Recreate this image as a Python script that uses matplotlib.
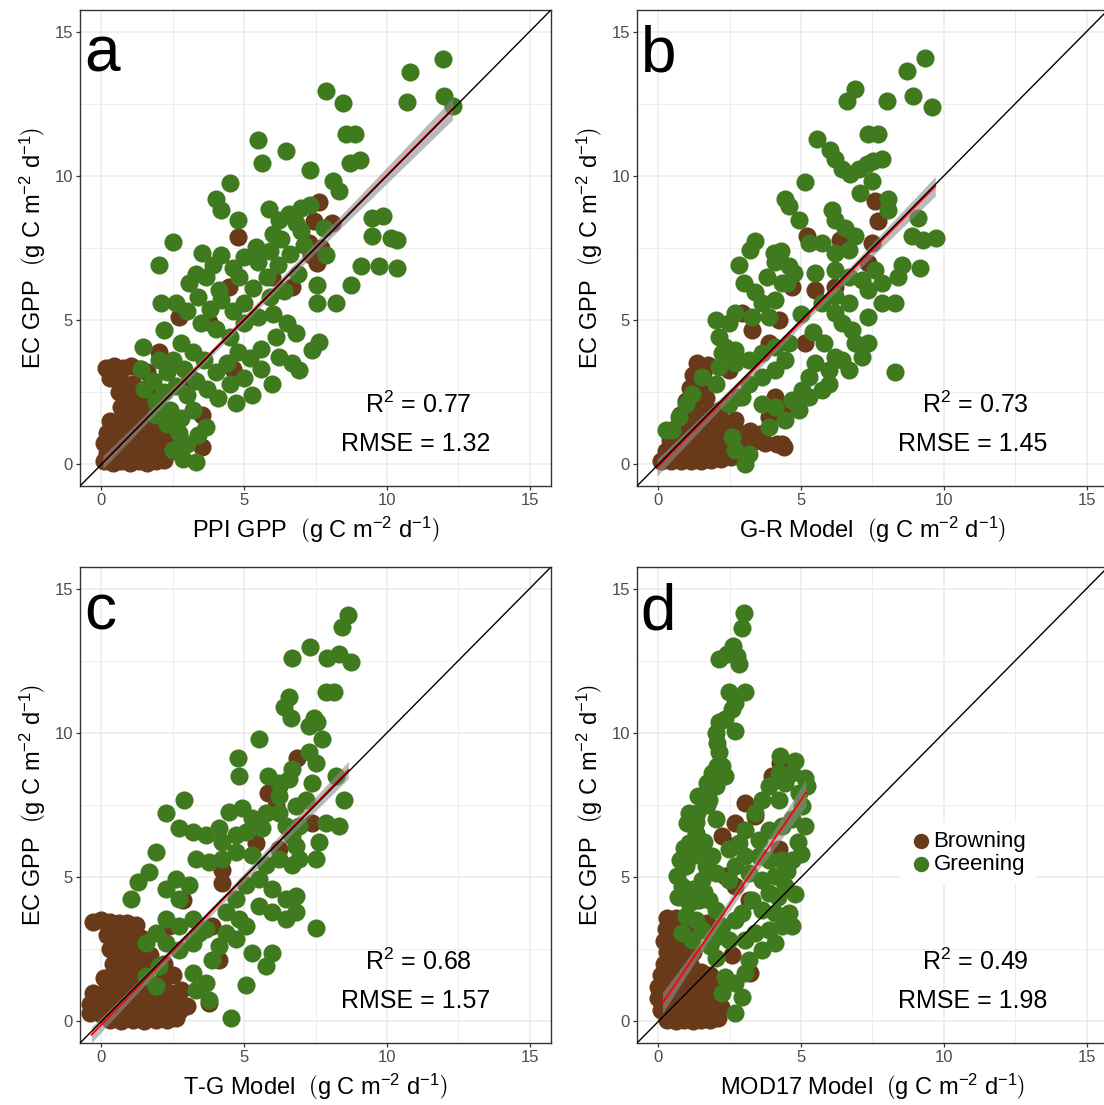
import numpy as np
import matplotlib
matplotlib.use('Agg')
import matplotlib.pyplot as plt

plt.rcParams['font.family'] = 'Liberation Sans'
plt.rcParams['mathtext.fontset'] = 'custom'
plt.rcParams['mathtext.rm'] = 'Liberation Sans'
plt.rcParams['mathtext.it'] = 'Liberation Sans:italic'

# ---- data (x = model GPP, y = EC GPP) ----
a_green = [(11.96,14.06),(10.80,13.60),(10.71,12.57),(11.99,12.75),(12.30,12.42),
    (7.88,12.94),(8.47,12.54),(8.56,11.44),(8.88,11.44),(8.72,10.43),(9.06,10.54),
    (5.48,11.24),(6.48,10.86),(5.64,10.45),(7.31,10.20),(8.11,9.81),(8.32,9.47),
    (4.50,9.76),(4.00,9.18),(4.18,8.83),(5.87,8.85),(4.77,8.46),
    (6.57,8.69),(6.81,8.37),(6.22,8.46),(6.98,8.08),(7.86,7.27),
    (9.49,8.54),(9.86,8.60),(9.49,7.90),(10.13,7.84),(10.36,7.79),
    (9.08,6.86),(9.72,6.86),(10.36,6.80),(8.73,6.22),(7.56,6.22),(7.56,5.59),(8.20,5.59),
    (2.49,7.71),(2.03,6.92),(3.54,7.32),(4.18,7.27),(5.41,7.55),
    (6.81,4.54),(7.62,4.25),(7.39,3.96),(6.22,3.73),(6.69,3.50),(6.92,3.27),(5.99,2.80),
    (5.29,2.40),(4.71,2.11),(3.66,1.30),(2.84,0.20),(3.31,0.08),
    (1.45,4.08),(2.09,5.59),(2.61,5.59),(2.20,4.66),
    (3.08,6.28),(3.66,6.51),(4.13,6.05),(4.83,6.51),
    (5.5,7.0),(5.8,6.5),(6.2,6.9),(6.6,7.3),(6.9,6.6),(7.1,7.6),(6.4,6.0),(5.9,5.8),
    (5.3,6.1),(5.0,5.6),(4.6,5.3),(4.2,5.7),(3.8,5.4),(3.4,5.8),(3.0,5.3),(3.5,4.9),
    (4.0,4.7),(4.5,4.4),(5.0,4.9),(5.5,5.1),(6.0,5.2),(6.5,4.9),(6.1,4.4),(5.6,4.0),
    (5.2,3.7),(4.8,3.9),(4.4,3.5),(4.0,3.2),(3.6,3.6),(3.2,3.9),(2.8,4.2),(2.5,3.6),
    (2.3,3.2),(2.9,3.3),(3.3,2.9),(3.7,2.6),(4.1,2.3),(4.5,2.8),(5.0,3.0),(5.6,3.3),
    (3.0,2.4),(2.6,2.7),(2.2,2.5),(1.8,2.9),(1.5,2.6),(1.9,2.2),(2.4,1.9),(2.8,1.6),
    (3.2,1.9),(3.4,1.0),(3.0,0.7),(2.7,1.1),(2.3,1.4),(1.9,1.7),(2.5,0.5),(1.4,3.3),
    (2.0,3.6),(3.3,6.6),(3.9,6.9),(4.6,6.8),(5.0,7.2),(5.9,7.4),(6.3,7.8),(6.0,8.0),
    (7.0,8.9),(7.3,9.0),(7.8,8.2)]
a_brown = [(7.45,8.42),(8.09,8.37),(7.27,7.67),(7.56,6.98),(7.35,7.25),(7.70,7.50),(7.62,9.10),
    (4.77,7.88),(4.48,6.16),(5.99,6.51),(6.69,6.16),(2.73,5.12),(3.78,4.95),(3.54,1.70),
    (3.54,0.60),(2.20,1.90),(3.10,3.00),(4.60,3.30),(2.00,3.90),(1.70,2.60),
    (0.15,3.35),(0.45,3.40),(0.75,3.35),(1.05,3.40),(1.35,3.30),(1.60,3.20),(0.30,3.00),
    (0.70,2.90),(1.10,2.80),(0.60,2.50),(0.90,2.30),(1.30,2.40),(0.70,2.00),(1.10,1.90),
    (1.50,2.00),(0.10,0.10),(0.40,0.05),(0.70,0.10),(1.00,0.05),(1.30,0.10),(1.60,0.05),
    (1.90,0.10),(2.20,0.15),(0.20,0.40),(0.50,0.45),(0.80,0.40),(1.10,0.45),(1.40,0.40),
    (1.70,0.45),(2.00,0.40),(2.30,0.50),(2.60,0.45),(0.10,0.75),(0.40,0.80),(0.70,0.75),
    (1.00,0.80),(1.30,0.75),(1.60,0.80),(1.90,0.75),(2.20,0.85),(2.50,0.80),(0.20,1.10),
    (0.50,1.15),(0.80,1.10),(1.10,1.15),(1.40,1.10),(1.70,1.15),(2.00,1.20),(0.30,1.50),
    (0.60,1.50),(0.90,1.45),(1.20,1.55),(1.50,1.50)]

b_green = [(9.34,14.07),(8.70,13.64),(6.89,13.00),(6.60,12.60),(8.02,12.60),(8.93,12.75),
    (9.57,12.40),(7.36,11.44),(7.71,11.44),(5.55,11.26),
    (6.00,10.90),(6.19,10.57),(6.43,10.22),(6.72,10.05),(7.01,10.22),(7.30,10.40),
    (7.53,10.51),(7.82,10.57),(5.15,9.79),(7.47,9.81),(7.07,9.41),(4.45,9.18),(4.56,8.95),
    (4.91,8.48),(6.08,8.83),(6.19,8.48),(6.54,8.19),(6.89,7.90),
    (8.06,9.18),(8.06,8.83),(9.10,8.54),(8.87,7.90),(9.28,7.79),(9.74,7.84),(9.16,6.80),
    (8.52,6.92),(8.40,6.51),(8.29,3.21),
    (3.40,7.73),(3.22,7.44),(4.04,7.32),(4.10,7.03),(2.82,6.92),
    (4.56,6.86),(4.74,6.63),(4.51,6.28),(5.26,7.67),(5.73,7.67),(6.19,7.32),(6.66,7.44),
    (5.49,6.63),(6.19,6.74),(6.66,6.51),(7.12,6.40),(7.36,6.05),(7.59,6.74),(7.82,6.28),
    (5.73,5.59),(6.19,5.82),(6.66,5.59),(6.19,5.24),(6.43,4.89),(6.77,4.66),(7.36,5.12),
    (7.82,5.59),(8.29,5.59),(6.89,4.20),(7.12,3.73),(7.36,4.20),(6.66,3.27),(6.43,3.62),
    (6.19,3.73),(5.96,3.27),(5.49,3.50),(5.26,3.03),(5.03,2.57),(4.68,2.22),(4.91,1.87),
    (5.26,2.34),(5.73,2.57),(5.96,2.80),
    (3.40,5.96),(3.63,5.59),(3.87,5.12),(4.10,5.70),(4.33,6.28),(3.28,5.12),(2.70,5.24),
    (2.47,4.89),(2.12,4.43),(2.35,4.08),(2.70,3.96),(2.24,3.85),(2.12,3.38),(2.70,3.50),
    (3.17,3.62),(3.63,3.85),(4.10,4.08),(4.56,4.20),(4.45,3.62),(4.10,3.27),(3.63,3.03),
    (3.17,2.80),(2.93,2.34),(2.47,2.10),(2.00,2.80),(1.54,3.03),(1.19,2.45),(0.95,2.10),
    (0.72,1.64),(0.49,1.18),(3.63,2.10),(4.10,1.98),(4.45,1.52),(3.87,1.30),(3.17,0.37),
    (2.70,0.49),(2.59,0.95),(3.05,0.02),(0.26,1.18),
    (3.00,6.30),(3.80,6.50),(4.30,7.40),(2.00,5.00),(5.00,5.20),(5.40,4.60),(5.80,4.20)]
b_brown = [(7.59,9.12),(7.71,8.42),(5.20,7.90),(7.36,6.98),(7.47,7.67),(6.37,7.79),(5.49,6.05),
    (4.68,6.16),(6.19,6.16),(2.93,5.24),(3.28,4.66),(4.21,5.00),(5.15,4.20),(3.87,4.20),
    (2.47,3.27),(4.10,2.34),(3.87,1.65),(4.56,1.99),(4.33,0.72),(2.82,2.34),
    (0.10,0.10),(0.45,0.10),(0.80,0.10),(1.15,0.10),(1.50,0.12),(1.85,0.15),(2.20,0.20),
    (2.55,0.25),(0.25,0.45),(0.60,0.45),(0.95,0.45),(1.30,0.45),(1.65,0.50),(2.00,0.50),
    (2.35,0.55),(2.70,0.60),(3.05,0.70),(3.40,0.80),(3.75,0.75),(4.15,0.70),(4.40,0.60),
    (0.40,0.85),(0.75,0.85),(1.10,0.80),(1.45,0.85),(1.80,0.90),(2.15,0.95),(2.50,1.00),
    (2.85,1.10),(3.20,1.15),(3.55,1.05),(0.60,1.25),(0.95,1.30),(1.30,1.25),(1.65,1.30),
    (2.00,1.40),(2.35,1.45),(2.70,1.55),(0.75,1.70),(1.10,1.75),(1.45,1.70),(1.80,1.80),
    (2.15,1.90),(0.95,2.20),(1.30,2.25),(1.65,2.30),(1.10,2.65),(1.45,2.70),(1.20,3.10),
    (1.55,3.15),(1.35,3.50),(1.75,3.45)]

c_green = [(8.65,14.09),(8.44,13.66),(7.30,12.96),(6.67,12.59),(7.91,12.59),(8.32,12.74),
    (8.73,12.45),(7.86,11.42),(8.15,11.42),(6.57,11.23),(6.40,10.88),(6.63,10.53),
    (7.45,10.53),(7.27,10.24),(7.56,10.36),(7.74,9.78),(5.52,9.78),(4.77,9.14),(4.83,8.50),
    (5.82,8.50),(7.27,9.32),(7.51,8.97),(6.69,8.74),(8.21,8.50),(8.50,7.69),(8.32,6.76),
    (7.86,6.88),(7.62,6.22),(7.51,5.64),(7.51,3.25),
    (2.90,7.69),(2.26,7.23),(2.73,6.71),(3.19,6.57),(3.66,6.46),(4.13,6.69),(4.48,7.27),
    (4.94,7.39),(5.29,7.04),(5.64,6.69),(5.06,6.57),(1.91,5.87),(1.68,5.17),(1.27,4.82),
    (1.04,4.24),(2.61,4.94),(2.26,4.59),(2.73,4.24),(3.08,4.71),(3.31,5.64),(3.78,5.52),
    (4.24,5.64),(4.71,5.87),(4.24,6.22),(4.71,6.46),(5.29,5.76),(5.76,5.41),(6.22,5.64),
    (6.69,5.41),(6.92,5.64),(5.52,4.94),(5.99,4.59),(6.46,4.24),(6.81,4.36),(6.81,3.78),
    (6.46,3.54),(5.99,3.78),(5.52,4.01),(5.06,4.71),(4.71,4.24),(4.36,3.78),(4.83,3.54),
    (5.06,3.31),(4.71,2.84),(4.36,3.08),(5.29,2.38),(5.76,1.91),(5.99,2.38),(5.06,1.27),
    (4.53,0.10),(3.66,1.33),(3.78,0.75),(3.89,2.14),(4.13,2.61),(3.66,3.19),
    (3.19,3.54),(2.73,3.31),(2.26,3.54),(1.91,3.08),(1.56,2.73),(2.26,2.73),(2.73,2.49),
    (3.19,2.73),(3.43,3.08),(2.03,1.91),(1.56,1.56),(1.91,1.21),(3.19,1.67),(3.31,1.09),
    (6.22,8.27),(6.57,8.39),(6.22,7.81),(6.81,7.46),(7.16,7.69),(7.39,8.27),
    (5.76,7.23),(6.22,7.23),(6.46,6.76),(6.69,6.42),(6.81,6.07),(6.92,6.76)]
c_brown = [(5.82,7.93),(6.22,8.16),(6.11,7.46),(6.86,9.14),(7.39,6.88),(5.41,6.19),(6.22,5.96),
    (4.24,5.26),(4.24,4.80),(2.84,4.22),(2.38,3.29),(3.89,3.29),(4.13,2.13),(3.78,0.63),
    (1.70,2.30),(2.20,2.00),
    (-0.30,3.45),(0.00,3.50),(0.30,3.45),(0.60,3.40),(0.90,3.40),(1.20,3.35),
    (0.20,3.00),(0.50,3.05),(0.80,2.95),(1.10,3.00),(1.40,2.90),
    (0.30,2.50),(0.60,2.55),(0.90,2.45),(1.20,2.50),(1.50,2.40),
    (0.40,2.00),(0.70,2.00),(1.00,1.95),(1.30,2.05),(1.60,2.10),
    (0.10,1.50),(0.50,1.50),(0.80,1.55),(1.10,1.45),(1.40,1.50),(2.20,1.50),(2.50,1.60),
    (-0.30,1.00),(0.00,0.95),(0.40,1.00),(0.80,1.05),(1.20,1.00),(1.60,1.00),(2.00,1.05),
    (2.40,1.00),(2.80,1.10),
    (-0.40,0.60),(0.00,0.60),(0.40,0.55),(0.80,0.60),(1.20,0.55),(1.60,0.60),(2.00,0.60),
    (2.40,0.65),(2.80,0.60),(3.00,0.55),
    (-0.40,0.30),(0.00,0.25),(0.40,0.30),(0.80,0.25),(1.20,0.30),(1.60,0.25),(2.00,0.30),
    (2.40,0.30),(2.70,0.35),
    (0.30,0.05),(0.70,0.00),(1.10,0.05),(1.50,0.00),(1.90,0.05),(2.30,0.05),(2.60,0.10)]

d_green = [(2.99,14.15),(2.93,13.63),(2.61,13.02),(2.41,12.73),(2.12,12.56),(2.76,12.68),
    (2.84,12.39),(2.47,11.43),(3.05,11.43),(2.70,11.05),(2.58,10.82),(2.35,10.47),
    (2.12,10.36),(2.70,10.07),(2.00,10.01),(2.06,9.66),(2.12,9.32),(2.06,8.85),(1.89,8.62),
    (2.24,8.85),(2.35,8.50),(1.71,8.27),(2.00,8.16),(1.77,7.69),
    (1.07,7.23),(1.36,7.23),(1.01,6.88),(1.30,6.54),(1.07,6.19),(1.19,5.72),(0.95,5.38),
    (0.66,5.03),(0.84,4.68),(1.54,5.84),(1.89,5.72),(1.65,5.38),(2.00,5.14),(1.54,4.91),
    (1.42,4.22),(1.07,4.10),(0.95,3.64),(1.30,3.52),(1.54,3.18),(1.19,2.83),(0.84,3.06),
    (1.77,4.22),(2.00,3.87),(0.70,4.30),(1.20,4.60),(0.90,6.00),(1.30,6.90),(1.60,6.20),
    (1.70,7.50),(1.40,7.80),(2.00,7.00),(0.75,5.60),(1.60,4.50),
    (4.27,9.20),(4.80,9.03),(4.68,8.62),(5.15,8.45),(5.21,8.16),(4.21,8.62),(4.45,8.27),
    (3.86,8.16),(3.63,7.69),(3.40,7.23),(4.21,7.69),(4.91,7.93),(5.03,7.46),(5.15,6.77),
    (4.68,7.00),(4.33,6.77),(3.86,6.65),(3.52,6.30),(3.05,6.65),(2.82,6.19),(2.47,5.96),
    (3.05,5.72),(3.52,5.72),(3.86,5.61),(4.33,5.61),(4.68,5.61),(2.70,5.38),(2.47,4.91),
    (3.17,5.14),(3.63,4.91),(4.10,5.03),(4.45,4.68),(3.86,4.45),(3.28,4.22),(2.93,3.75),
    (3.63,3.87),(4.10,3.75),(4.56,3.75),(4.33,3.29),(4.68,3.29),(3.86,3.18),(2.70,3.52),
    (2.24,3.29),(2.00,2.94),(2.47,2.83),(3.05,2.83),(3.40,3.06),(3.63,2.48),(4.10,2.71),
    (3.17,2.13),(3.05,1.67),(2.70,1.32),(2.93,0.86),(2.70,0.28),(2.35,1.55),(2.24,0.97),
    (1.80,2.60),(2.00,2.20),(4.50,5.20),(4.80,4.40),(4.20,4.30),(4.90,6.20),(5.00,5.80)]
d_brown = [(3.98,8.51),(4.27,8.97),(3.05,7.58),(3.40,7.11),(2.70,6.88),(2.24,6.42),(2.58,6.07),
    (4.21,5.96),(2.35,5.03),(2.70,4.68),(3.17,4.22),(1.30,4.22),(1.71,3.41),(2.58,2.31),
    (3.22,1.67),
    (0.30,3.60),(0.60,3.60),(0.90,3.50),(0.25,3.20),(0.55,3.20),(0.85,3.10),(1.10,3.20),
    (0.20,2.80),(0.50,2.80),(0.80,2.75),(1.15,2.70),(0.30,2.40),(0.60,2.40),(0.90,2.30),
    (1.20,2.40),(0.20,2.00),(0.50,2.00),(0.80,1.95),(1.10,2.00),(0.10,1.60),(0.40,1.60),
    (0.70,1.60),(1.00,1.55),(0.00,1.20),(0.30,1.20),(0.60,1.15),(0.90,1.20),(1.20,1.20),
    (1.50,1.30),(1.80,1.20),(2.10,1.30),(0.00,0.80),(0.30,0.80),(0.60,0.75),(0.90,0.80),
    (1.20,0.80),(1.50,0.85),(1.80,0.80),(2.10,0.85),(0.10,0.40),(0.40,0.40),(0.70,0.35),
    (1.00,0.40),(1.30,0.40),(1.60,0.35),(1.90,0.40),(2.20,0.50),(0.30,0.05),(0.60,0.00),
    (0.90,0.05),(1.20,0.00),(1.50,0.05),(1.80,0.05),(2.10,0.10),(1.50,1.70),(1.80,1.60)]

panels = ['a', 'b', 'c', 'd']
x_titles = ['PPI GPP', 'G-R Model', 'T-G Model', 'MOD17 Model']
greens = [a_green, b_green, c_green, d_green]
browns = [a_brown, b_brown, c_brown, d_brown]
# fitted line (slope, intercept, x start, x end)
fits = [(1.00, 0.02, 0.05, 12.30), (1.00, -0.06, -0.05, 9.70),
        (1.02, -0.11, -0.35, 8.65), (1.45, 0.43, 0.14, 5.17)]
r2 = ['0.77', '0.73', '0.68', '0.49']
rmse = ['1.32', '1.45', '1.57', '1.98']
n_obs = 1000   # rough size of the full dataset behind the plotted points

green_col = '#3f7a1e'
brown_col = '#683a1a'
units = r'$\left(\mathrm{g\ C\ m^{-2}\ d^{-1}}\right)$'

fig = plt.figure(figsize=(11.04, 11.05), dpi=100)
boxes = [[0.0725, 0.5602, 0.4266, 0.4308], [0.5770, 0.5602, 0.4266, 0.4308],
         [0.0725, 0.0561, 0.4266, 0.4308], [0.5770, 0.0561, 0.4266, 0.4308]]

for i in range(4):
    ax = fig.add_axes(boxes[i])
    lo, hi = -0.75, 15.75
    ax.set_xlim(lo, hi)
    ax.set_ylim(lo, hi)
    ax.set_xticks([0, 5, 10, 15])
    ax.set_yticks([0, 5, 10, 15])
    ax.set_xticks([2.5, 7.5, 12.5], minor=True)
    ax.set_yticks([2.5, 7.5, 12.5], minor=True)
    ax.grid(which='major', color='#ebebeb', lw=1.1)
    ax.grid(which='minor', color='#ebebeb', lw=0.6)
    ax.set_axisbelow(True)
    for sp in ax.spines.values():
        sp.set_color('#333333')
        sp.set_linewidth(1.0)
    ax.tick_params(which='major', direction='out', length=3, width=0.9, color='#333333',
                   labelcolor='#4d4d4d', labelsize=12, pad=2)
    ax.tick_params(which='minor', length=0)

    gb = np.array(browns[i])
    gg = np.array(greens[i])
    hb = ax.scatter(gb[:, 0], gb[:, 1], s=170, color=brown_col, lw=0, zorder=2, label='Browning')
    hg = ax.scatter(gg[:, 0], gg[:, 1], s=170, color=green_col, lw=0, zorder=2, label='Greening')

    # regression line with 95% confidence band
    slope, icpt, x0, x1 = fits[i]
    allp = np.vstack([gb, gg])
    res = allp[:, 1] - (icpt + slope * allp[:, 0])
    s = np.sqrt(np.mean(res ** 2))
    xbar = allp[:, 0].mean()
    varx = allp[:, 0].var()
    xs = np.linspace(x0, x1, 100)
    ys = icpt + slope * xs
    hw = 1.96 * s * np.sqrt(1.0 / n_obs + (xs - xbar) ** 2 / (n_obs * varx))
    ax.fill_between(xs, ys - hw, ys + hw, color='#8c8c8c', alpha=0.6, lw=0, zorder=3)
    ax.plot(xs, ys, color='red', lw=1.3, zorder=4)
    ax.plot([lo, hi], [lo, hi], color='black', lw=1.0, zorder=5)

    ax.text(-0.62, 13.6, panels[i], fontsize=46, ha='left', va='baseline', zorder=6)
    ax.text(11.1, 2.08, r'R$^2$ = ' + r2[i], fontsize=18, ha='center', va='center', zorder=6)
    ax.text(11.0, 0.69, 'RMSE = ' + rmse[i], fontsize=18, ha='center', va='center', zorder=6)

    ax.set_xlabel(x_titles[i] + '  ' + units, fontsize=17, labelpad=5)
    ax.set_ylabel('EC GPP  ' + units, fontsize=17, labelpad=5)

    if i == 3:
        ax.legend([hb, hg], ['Browning', 'Greening'], loc='center',
                  bbox_to_anchor=(0.703, 0.399), frameon=True, facecolor='white',
                  edgecolor='none', framealpha=1, fontsize=16, handletextpad=0.05,
                  labelspacing=0.1, borderpad=0.4, markerscale=0.85, handlelength=1.0)

fig.savefig('out.png', dpi=100)
